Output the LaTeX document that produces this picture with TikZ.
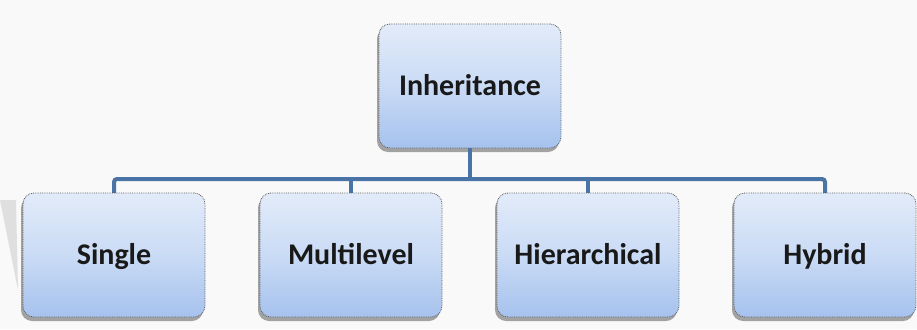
\documentclass[tikz,border=0pt]{standalone}
\usepackage{fontspec}
\setmainfont{Carlito}
\usetikzlibrary{shadows}
\begin{document}
\begin{tikzpicture}[x=1pt,y=-1pt,
  box/.style={rounded corners=11pt, minimum width=182pt, minimum height=124pt,
    top color=bluetop, bottom color=bluebottom, middle color=bluemid,
    draw=gray!70!black, densely dotted, line width=0.8pt,
    font=\fontsize{30}{32}\selectfont\bfseries, text=black!90,
    text height=20pt, text depth=2pt,
    drop shadow={shadow xshift=-2pt, shadow yshift=-4pt, fill=black, opacity=0.35}},
  link/.style={draw=linkblue, line width=4pt}]
\definecolor{bluetop}{HTML}{E2EBF9}
\definecolor{bluebottom}{HTML}{A6C2EE}
\definecolor{bluemid}{HTML}{CADBF5}
\definecolor{linkblue}{HTML}{4A74A6}
\definecolor{bg}{HTML}{F9F9F9}
\fill[bg] (0,0) rectangle (917,329);
\useasboundingbox (0,0) rectangle (917,329);
\fill[gray!25] (0,200) -- (16,200) -- (18,290) -- cycle;
\coordinate (bar) at (470,179);
\draw[link, rounded corners=3pt] (114,200) |- (bar) -| (825,200);
\node[box] (inh) at (470,86) {Inheritance};
\node[box] (sin) at (114,255) {Single};
\node[box] (mul) at (351,255) {Multilevel};
\node[box] (hie) at (588,255) {Hierarchical};
\node[box] (hyb) at (825,255) {Hybrid};
\draw[link] (inh.south) -- (bar);
\draw[link] (mul.north) -- (mul.north |- bar);
\draw[link] (hie.north) -- (hie.north |- bar);
\end{tikzpicture}
\end{document}
